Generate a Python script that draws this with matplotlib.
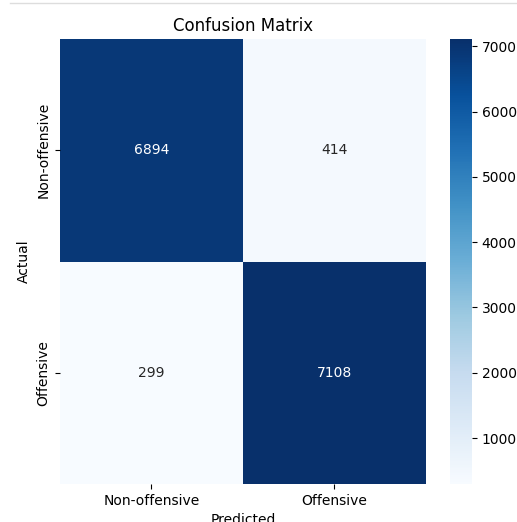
import matplotlib
matplotlib.use("Agg")
import matplotlib.pyplot as plt
import numpy as np
import seaborn as sns
from matplotlib.lines import Line2D

labels = ["Non-offensive", "Offensive"]
row_nonoff = [6894, 414]
row_off = [299, 7108]
cm = np.array([row_nonoff, row_off])

fig = plt.figure(figsize=(5.17, 5.22), dpi=100)
ax = fig.add_axes([0.116, 0.073, 0.708, 0.852])
cax = fig.add_axes([0.870, 0.073, 0.043, 0.852])

sns.heatmap(cm, annot=True, fmt="d", cmap="Blues", ax=ax, cbar_ax=cax,
            xticklabels=labels, yticklabels=labels, annot_kws={"size": 10})
ax.set_title("Confusion Matrix", fontsize=12)
ax.set_xlabel("Predicted", fontsize=10)
ax.set_ylabel("Actual", fontsize=10)
ax.tick_params(labelsize=10)
cax.tick_params(labelsize=10)

fig.add_artist(Line2D([0.02, 1.0], [0.994, 0.994], transform=fig.transFigure,
                      color="#dddddd", linewidth=1))

fig.savefig("out.png", dpi=100)
